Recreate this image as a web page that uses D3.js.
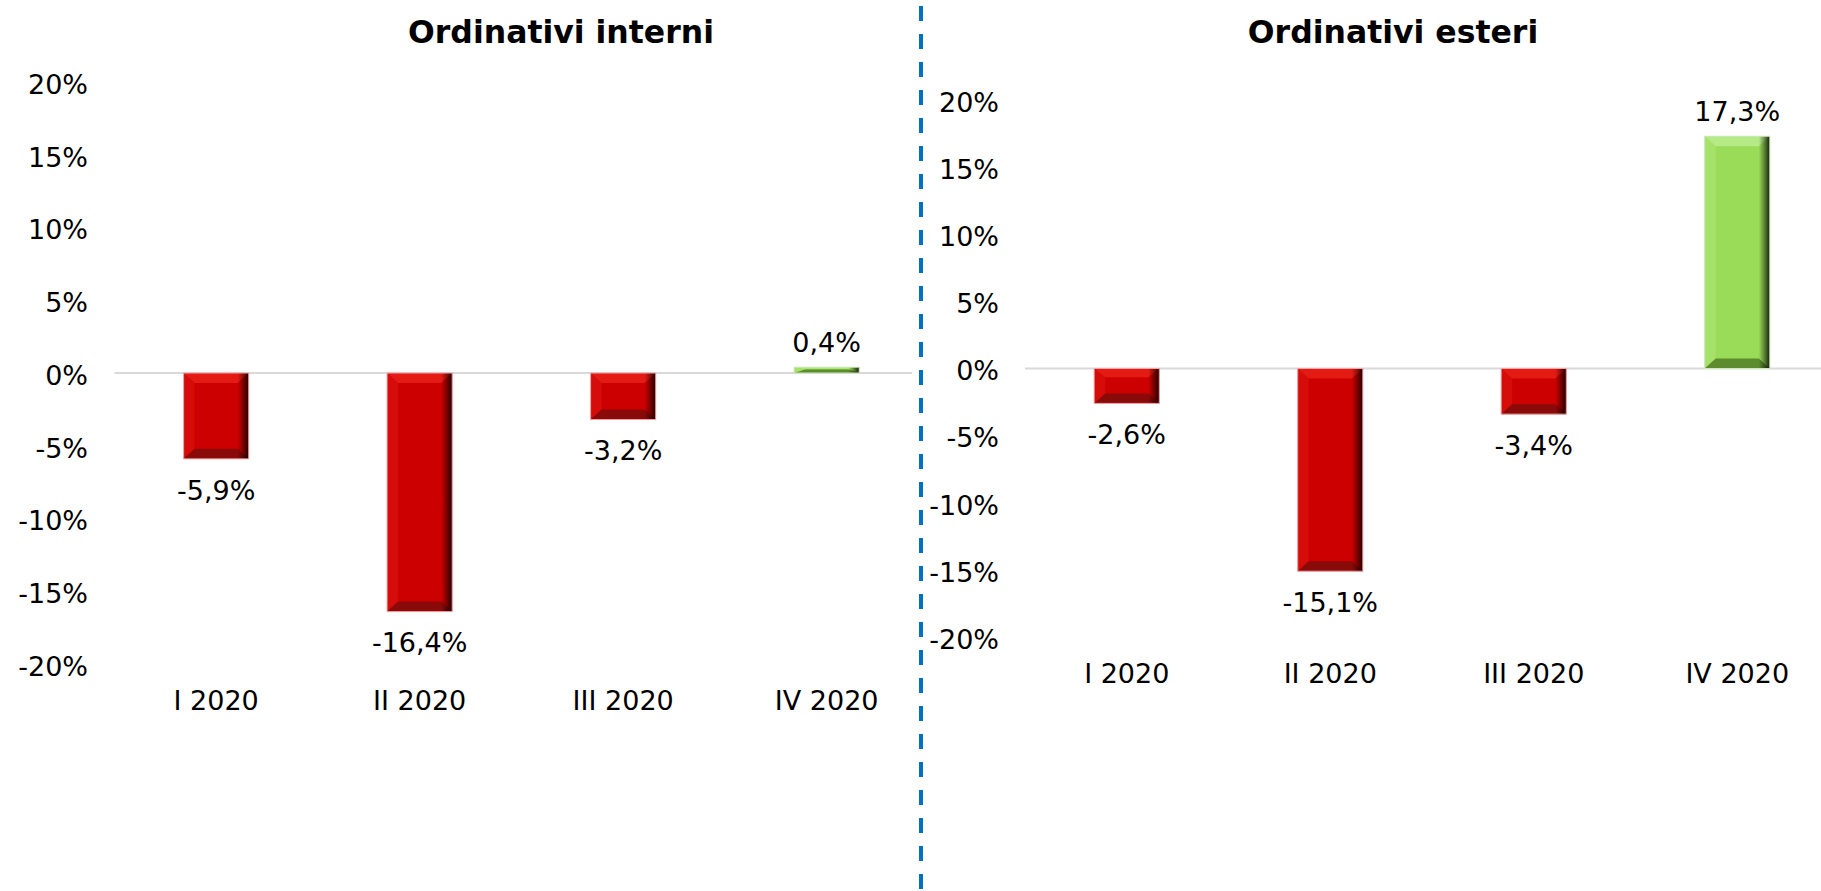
<!DOCTYPE html>
<html>
<head>
<meta charset="utf-8">
<script src="https://cdn.jsdelivr.net/npm/d3@7"></script>
<style>
  html, body { margin: 0; padding: 0; background: #ffffff; }
  svg { display: block; }
  text { font-family: "DejaVu Sans", Verdana, sans-serif; fill: #000; }
</style>
</head>
<body>
<svg id="chart" width="1821" height="891"></svg>
<script>
// ---- data ----
const categories = ["I 2020", "II 2020", "III 2020", "IV 2020"];
const interniValues = [-5.9, -16.4, -3.2, 0.4];
const esteriValues = [-2.6, -15.1, -3.4, 17.3];
const yTicks = [-20, -15, -10, -5, 0, 5, 10, 15, 20];
const titles = ["Ordinativi interni", "Ordinativi esteri"];

const svg = d3.select("#chart");
const defs = svg.append("defs");

const palettes = {
  red:   { body: "#CC0000", light: "#E41A14", left: "#D60C0A", dark: "#8A0A0A", edge: "#F2A6A6" },
  green: { body: "#9ADB58", light: "#B6EA86", left: "#A6E269", dark: "#5C8C2E", edge: "#CFE8C0" }
};

// right-edge shading gradient
const rg = defs.append("linearGradient").attr("id", "rightShade")
  .attr("x1", "0").attr("x2", "1").attr("y1", "0").attr("y2", "0");
rg.append("stop").attr("offset", "0").attr("stop-color", "#000").attr("stop-opacity", 0);
rg.append("stop").attr("offset", "0.5").attr("stop-color", "#000").attr("stop-opacity", 0.4);
rg.append("stop").attr("offset", "1").attr("stop-color", "#000").attr("stop-opacity", 0.85);

const fmt = v => v.toFixed(1).replace(".", ",") + "%";

function panel(cfg) {
  const g = svg.append("g");
  const x = d3.scaleBand().domain(categories)
    .range(cfg.xRange).paddingInner(0.68).paddingOuter(0.34);
  const y = d3.scaleLinear().domain([-20, 20]).range(cfg.yRange);

  // title
  g.append("text")
    .attr("x", cfg.titleX).attr("y", 32).attr("dy", "0.36em")
    .attr("text-anchor", "middle")
    .style("font-weight", "bold").style("font-size", "31.5px")
    .text(cfg.title);

  // y axis
  const ax = g.append("g")
    .attr("transform", `translate(${cfg.axisX},0)`)
    .call(d3.axisLeft(y).tickValues(yTicks).tickSize(0).tickPadding(0)
      .tickFormat(d => d + "%"));
  ax.select(".domain").remove();
  ax.selectAll("text")
    .style("font-family", "'DejaVu Sans', Verdana, sans-serif")
    .style("font-size", "27px").attr("fill", "#000").attr("dy", "0.42em");

  // zero line
  g.append("line")
    .attr("x1", cfg.xRange[0]).attr("x2", cfg.zeroEnd)
    .attr("y1", y(0)).attr("y2", y(0))
    .attr("stroke", "#D9D9D9").attr("stroke-width", 2);

  // bars
  const data = categories.map((c, i) => ({ c, v: cfg.values[i] }));
  const bw = x.bandwidth();
  data.forEach(d => {
    const p = d.v >= 0 ? palettes.green : palettes.red;
    const x0 = x(d.c), w = bw;
    const yt = Math.min(y(d.v), y(0)), h = Math.abs(y(d.v) - y(0));
    const bt = Math.min(10, h * 0.25), bb = Math.min(10, h * 0.6);
    const s = Math.min(11, w / 4);
    const bg = g.append("g");
    bg.append("rect").attr("x", x0).attr("y", yt).attr("width", w).attr("height", h)
      .attr("fill", p.body);
    // left bevel
    bg.append("polygon").attr("points",
      [[x0, yt], [x0 + s, yt + bt], [x0 + s, yt + h - bb], [x0, yt + h]].join(" "))
      .attr("fill", p.left);
    // top bevel
    bg.append("polygon").attr("points",
      [[x0, yt], [x0 + w, yt], [x0 + w - s, yt + bt], [x0 + s, yt + bt]].join(" "))
      .attr("fill", p.light);
    // bottom bevel
    bg.append("polygon").attr("points",
      [[x0, yt + h], [x0 + w, yt + h], [x0 + w - s, yt + h - bb], [x0 + s, yt + h - bb]].join(" "))
      .attr("fill", p.dark);
    // right shading
    bg.append("rect").attr("x", x0 + w - s).attr("y", yt).attr("width", s).attr("height", h)
      .attr("fill", "url(#rightShade)");
    // soft edge
    bg.append("rect").attr("x", x0).attr("y", yt).attr("width", w).attr("height", h)
      .attr("fill", "none").attr("stroke", p.edge).attr("stroke-width", 1);

    // value label
    const ly = d.v >= 0 ? y(d.v) - 25 : y(d.v) + 31;
    g.append("text")
      .attr("x", x0 + w / 2).attr("y", ly).attr("dy", "0.36em")
      .attr("text-anchor", "middle").style("font-size", "27px")
      .text(fmt(d.v));
  });

  // x axis labels
  const xa = g.append("g")
    .attr("transform", `translate(0,${y(-20) + 36})`)
    .call(d3.axisBottom(x).tickSize(0).tickPadding(0));
  xa.select(".domain").remove();
  xa.selectAll("text")
    .style("font-family", "'DejaVu Sans', Verdana, sans-serif")
    .style("font-size", "27px").attr("fill", "#000").attr("dy", "0.36em");
}

panel({
  title: titles[0], values: interniValues,
  xRange: [114.4, 928.4], yRange: [664, 82],
  axisX: 88, titleX: 561, zeroEnd: 912
});
panel({
  title: titles[1], values: esteriValues,
  xRange: [1025, 1839], yRange: [637, 100],
  axisX: 999, titleX: 1393, zeroEnd: 1821
});

// dashed divider
svg.append("line")
  .attr("x1", 921).attr("x2", 921).attr("y1", 6).attr("y2", 891)
  .attr("stroke", "#0070C0").attr("stroke-width", 4)
  .attr("stroke-dasharray", "15,13");
</script>
</body>
</html>
